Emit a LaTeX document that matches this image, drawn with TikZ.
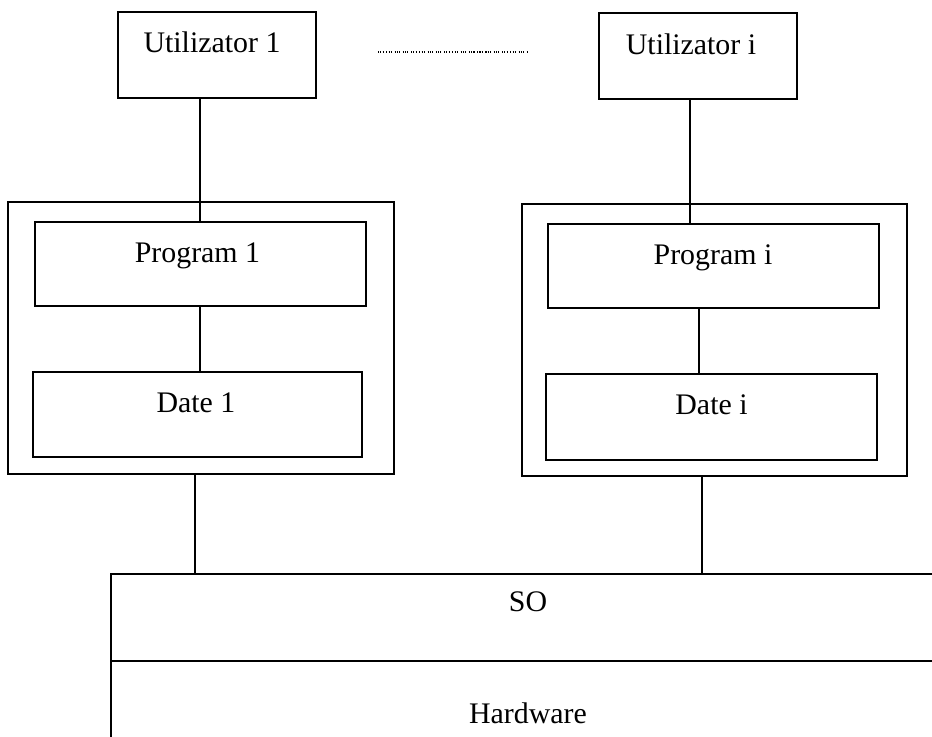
\documentclass[tikz,border=0pt]{standalone}
\usepackage{fontspec}
\setmainfont{Liberation Serif}
\begin{document}
\begin{tikzpicture}[x=0.75pt,y=-0.75pt,
  box/.style={draw, rectangle, inner sep=0pt, line width=1.2pt},
  lbl/.style={anchor=base, inner sep=0pt, font=\fontsize{22.4}{26}\selectfont},
  link/.style={line width=1.2pt},
  dots/.style={line width=1.3pt, dash pattern=on 0.8pt off 0.9pt on 0.8pt off 0.9pt on 0.8pt off 2pt}]
\clip (0,0) rectangle (932,737);
% boxes
\node[box, minimum width=148.5pt, minimum height=64.5pt] (u1) at (217,55) {};
\node[box, minimum width=148.5pt, minimum height=64.5pt] (ui) at (698,56) {};
\node[box, minimum width=289.5pt, minimum height=204pt] (o1) at (201,338) {};
\node[box, minimum width=288.75pt, minimum height=204pt] (oi) at (714.5,340) {};
\node[box, minimum width=248.25pt, minimum height=63pt] (p1) at (200.5,264) {};
\node[box, minimum width=248.25pt, minimum height=63pt] (pi) at (713.5,266) {};
\node[box, minimum width=246.75pt, minimum height=63.75pt] (d1) at (197.5,414.5) {};
\node[box, minimum width=248.25pt, minimum height=64.5pt] (di) at (711.5,417) {};
\node[box, minimum width=636.75pt, minimum height=65.25pt] (so) at (535.5,617.5) {};
\node[box, minimum width=636.75pt, minimum height=74.25pt] (hw) at (535.5,710.5) {};
% labels
\node[lbl] (tu1) at (212,53) {Utilizator 1};
\node[lbl] (tui) at (691,55) {Utilizator i};
\node[lbl] (tp1) at (197.5,263) {Program 1};
\node[lbl] (td1) at (196,413) {Date 1};
\node[lbl] (tpi) at (713,265) {Program i};
\node[lbl] (tdi) at (711.5,415) {Date i};
\node[lbl] (tso) at (528,612) {SO};
\node[lbl] (thw) at (528,723) {Hardware};
% connector columns
\coordinate (c1) at (200,0);
\coordinate (c2) at (195,0);
\coordinate (c3) at (690,0);
\coordinate (c4) at (699,0);
\coordinate (c5) at (702,0);
\draw[link] (u1.south -| c1) -- (p1.north -| c1);
\draw[link] (p1.south -| c1) -- (d1.north -| c1);
\draw[link] (o1.south -| c2) -- (so.north -| c2);
\draw[link] (ui.south -| c3) -- (pi.north -| c3);
\draw[link] (pi.south -| c4) -- (di.north -| c4);
\draw[link] (oi.south -| c5) -- (so.north -| c5);
% dotted ellipsis
\coordinate (dl) at (378,52);
\coordinate (dr) at (528,52);
\draw[dots] (dl) -- (dr);
\end{tikzpicture}
\end{document}
